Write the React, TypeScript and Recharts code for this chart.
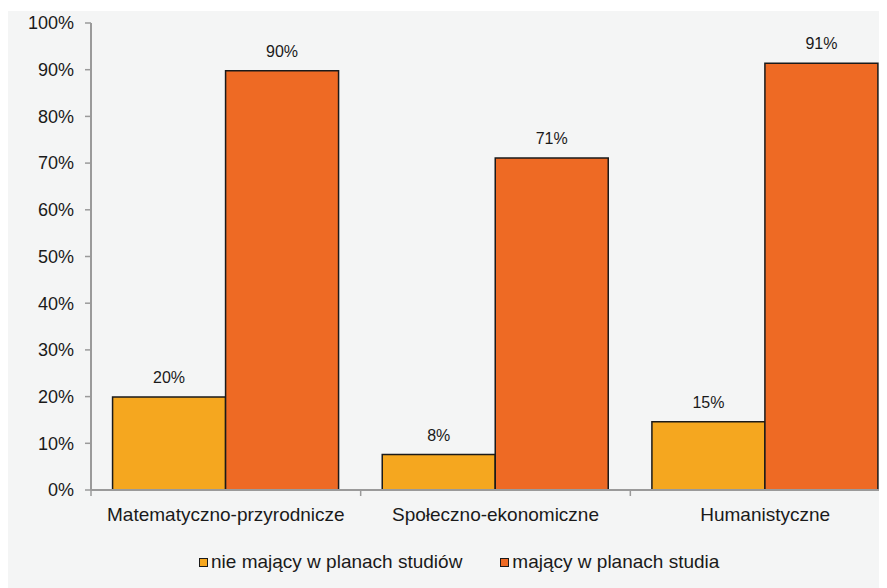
import React from 'react';
import { BarChart, Bar, XAxis, YAxis, Legend, LabelList } from 'recharts';

const categories = ['Matematyczno-przyrodnicze', 'Społeczno-ekonomiczne', 'Humanistyczne'];
const notPlanning = [19.9, 7.6, 14.6];
const planning = [89.8, 71.1, 91.4];
const seriesNames = ['nie mający w planach studiów', 'mający w planach studia'];
const yTicks = [0, 10, 20, 30, 40, 50, 60, 70, 80, 90, 100];

const COLORS = ['#F5A71F', '#EE6A24'];
const FONT = '"Liberation Sans", Arial, sans-serif';
const AXIS = '#9a9a9a';

const data = categories.map((c, i) => ({ name: c, a: notPlanning[i], b: planning[i] }));

const renderLegend = () => (
  <div style={{ display: 'flex', alignItems: 'center', fontFamily: FONT, fontSize: 19, color: '#1a1a1a', whiteSpace: 'nowrap' }}>
    {seriesNames.map((n, i) => (
      <div key={n} style={{ display: 'flex', alignItems: 'center', marginRight: i === 0 ? 38 : 0 }}>
        <span style={{ display: 'inline-block', width: 7, height: 7, background: COLORS[i], border: '1.5px solid #1a1a1a', marginRight: 3 }} />
        <span>{n}</span>
      </div>
    ))}
  </div>
);

const CategoryTick = (props: any) => {
  const { x, y, payload, index, visibleTicksCount } = props;
  const half = payload && payload.offset ? payload.offset : 0;
  const axisY = y - 18;
  const isLast = index === (visibleTicksCount ?? categories.length) - 1;
  return (
    <g>
      <line x1={x - half} x2={x - half} y1={axisY} y2={axisY + 6} stroke={AXIS} strokeWidth={1.5} />
      {isLast && <line x1={x + half} x2={x + half} y1={axisY} y2={axisY + 6} stroke={AXIS} strokeWidth={1.5} />}
      <text x={x} y={y} dy="0.71em" textAnchor="middle" fill="#1a1a1a" fontSize={19} fontFamily={FONT}>
        {payload.value}
      </text>
    </g>
  );
};

export default function App() {
  return (
    <div style={{ paddingTop: 3 }}>
      <div style={{ width: 879, height: 577, overflow: 'hidden', background: '#F4F5F5' }}>
        <BarChart
          width={920}
          height={577}
          data={data}
          margin={{ top: 12, right: 28, left: 0, bottom: 13 }}
          barCategoryGap="8%"
          barGap={0}
        >
          <XAxis
            dataKey="name"
            tickLine={false}
            tickSize={0}
            tickMargin={18}
            axisLine={{ stroke: AXIS, strokeWidth: 2 }}
            tick={<CategoryTick />}
            height={61}
            interval={0}
          />
          <YAxis
            domain={[0, 100]}
            ticks={yTicks}
            tickFormatter={(v: number) => `${v}%`}
            width={83}
            tickSize={6}
            tickMargin={11}
            axisLine={{ stroke: AXIS, strokeWidth: 2 }}
            tickLine={{ stroke: AXIS, strokeWidth: 1.5 }}
            tick={{ fill: '#1a1a1a', fontSize: 18, fontFamily: FONT }}
          />
          <Legend verticalAlign="bottom" content={renderLegend} wrapperStyle={{ left: 191, width: 'auto', height: 24 }} />
          <Bar dataKey="a" name={seriesNames[0]} fill={COLORS[0]} stroke="#1a1a1a" strokeWidth={1.5} isAnimationActive={false}>
            <LabelList dataKey="a" position="top" offset={14} formatter={(v: number) => `${Math.round(v)}%`} style={{ fill: '#1a1a1a', fontSize: 16, fontFamily: FONT }} />
          </Bar>
          <Bar dataKey="b" name={seriesNames[1]} fill={COLORS[1]} stroke="#1a1a1a" strokeWidth={1.5} isAnimationActive={false}>
            <LabelList dataKey="b" position="top" offset={14} formatter={(v: number) => `${Math.round(v)}%`} style={{ fill: '#1a1a1a', fontSize: 16, fontFamily: FONT }} />
          </Bar>
        </BarChart>
      </div>
    </div>
  );
}
